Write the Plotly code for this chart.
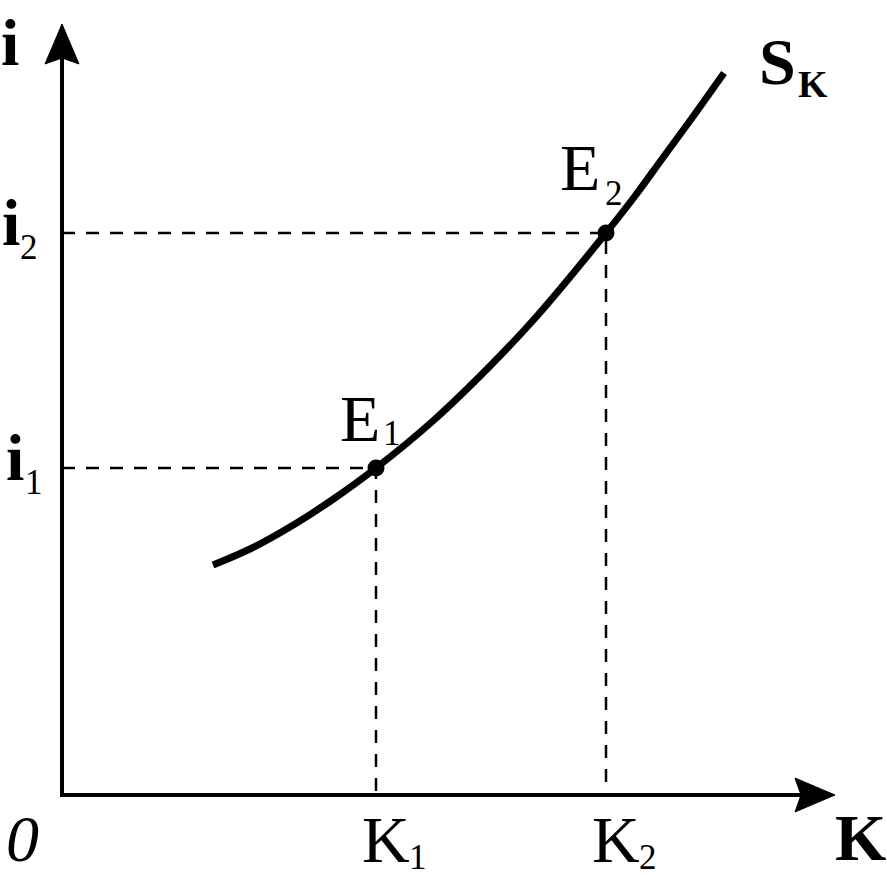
import plotly.graph_objects as go

# ---- data (origin at 0,0; units ~ pixels of the original drawing) ----
curve_x = [151, 190, 233, 270, 314, 372, 430, 475, 544, 573, 600, 630, 662]
curve_y = [230, 247, 271, 295, 327, 375, 431, 479, 562, 599, 636, 677, 722]
point_names = ["E1", "E2"]
point_x = [314, 544]   # K1, K2
point_y = [327, 562]   # i1, i2
x_tick_labels = ["K", "K"]
x_tick_subs = ["1", "2"]
y_tick_labels = ["i", "i"]
y_tick_subs = ["1", "2"]
axis_end_x = 773
axis_end_y = 771

FONT = "Liberation Serif"
BIG = 66
SUB = 35

fig = go.Figure()

# dashed guide lines
for px_, py_ in zip(point_x, point_y):
    fig.add_trace(go.Scatter(x=[0, px_, px_], y=[py_, py_, 0], mode="lines",
                             line=dict(color="black", width=2.5, dash="13px,11px"),
                             hoverinfo="skip", showlegend=False))

# supply curve
fig.add_trace(go.Scatter(x=curve_x, y=curve_y, mode="lines",
                         line=dict(color="black", width=7, shape="spline"),
                         showlegend=False))
# equilibrium points
fig.add_trace(go.Scatter(x=point_x, y=point_y, mode="markers",
                         marker=dict(color="black", size=17),
                         showlegend=False))

shapes = []
# axes
shapes.append(dict(type="line", x0=0, y0=0, x1=0, y1=axis_end_y - 30,
                   line=dict(color="black", width=4)))
shapes.append(dict(type="line", x0=-2, y0=0, x1=axis_end_x - 30, y1=0,
                   line=dict(color="black", width=4)))
# arrowheads
shapes.append(dict(type="path",
                   path=f"M 0 {axis_end_y} L -17 {axis_end_y-40} L 0 {axis_end_y-34} L 17 {axis_end_y-40} Z",
                   fillcolor="black", line=dict(color="black", width=1)))
shapes.append(dict(type="path",
                   path=f"M {axis_end_x} 0 L {axis_end_x-40} 17 L {axis_end_x-34} 0 L {axis_end_x-40} -17 Z",
                   fillcolor="black", line=dict(color="black", width=1)))

ann = []
def lab(x, y, text, size, bold=False, italic=False, xs=0, ys=0):
    t = text
    if bold:
        t = "<b>" + t + "</b>"
    if italic:
        t = "<i>" + t + "</i>"
    ann.append(dict(x=x, y=y, text=t, showarrow=False, xanchor="center", yanchor="middle",
                    xshift=xs, yshift=ys, font=dict(family=FONT, size=size, color="black")))

# axis titles
lab(-52, 753, "i", BIG, bold=True)
lab(798, -42, "K", BIG, bold=True)
lab(-40, -43, "0", BIG, italic=True)
# curve label
lab(715, 734, "S", BIG, bold=True)
lab(751, 711, "K", 38, bold=True)

# point labels
label_offsets = {"E1": (-16, 50, 16, 35), "E2": (-26, 66, 8, 40)}
for (px_, py_), nm in zip(zip(point_x, point_y), point_names):
    ex, ey, sx, sy = label_offsets[nm]
    lab(px_, py_, nm[0], BIG, xs=ex, ys=ey)
    lab(px_, py_, nm[1], SUB, xs=sx, ys=sy)

# tick labels
for xv, t, s in zip(point_x, x_tick_labels, x_tick_subs):
    lab(xv, 0, t, BIG, xs=10, ys=-44)
    lab(xv, 0, s, SUB, xs=42, ys=-62)
for i, (yv, t, s) in enumerate(zip(point_y, y_tick_labels, y_tick_subs)):
    lab(0, yv, t, BIG, bold=True, xs=-47 if i == 0 else -51, ys=11)
    lab(0, yv, s, SUB, xs=-28 if i == 0 else -33, ys=-14)

fig.update_layout(
    width=887, height=876,
    margin=dict(l=0, r=0, t=0, b=0),
    paper_bgcolor="white", plot_bgcolor="white",
    xaxis=dict(range=[-62, 825], visible=False, fixedrange=True),
    yaxis=dict(range=[-81, 795], visible=False, fixedrange=True),
    shapes=shapes, annotations=ann, showlegend=False,
)
fig.write_html("out.html", config={"displayModeBar": False},
               post_script="document.body.style.margin='0';document.body.style.overflow='hidden';")
